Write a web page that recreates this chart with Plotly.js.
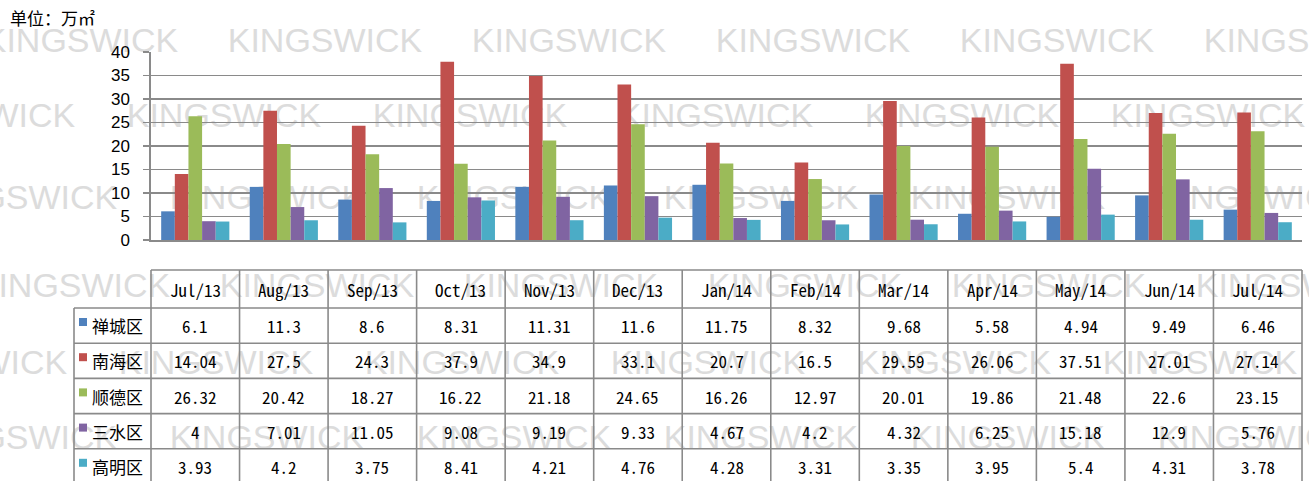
<!DOCTYPE html>
<html><head><meta charset="utf-8">
<script src="https://cdn.plot.ly/plotly-3.0.1.min.js"></script>
<style>html,body{margin:0;padding:0;background:#fff;} #chart{width:1309px;height:481px;}</style>
</head><body><div id="chart"></div>
<script>
// ---- data ----
const months = ['Jul/13','Aug/13','Sep/13','Oct/13','Nov/13','Dec/13','Jan/14','Feb/14','Mar/14','Apr/14','May/14','Jun/14','Jul/14'];
const seriesNames = ['禅城区','南海区','顺德区','三水区','高明区'];
const chancheng = [6.1, 11.3, 8.6, 8.31, 11.31, 11.6, 11.75, 8.32, 9.68, 5.58, 4.94, 9.49, 6.46];
const nanhai    = [14.04, 27.5, 24.3, 37.9, 34.9, 33.1, 20.7, 16.5, 29.59, 26.06, 37.51, 27.01, 27.14];
const shunde    = [26.32, 20.42, 18.27, 16.22, 21.18, 24.65, 16.26, 12.97, 20.01, 19.86, 21.48, 22.6, 23.15];
const sanshui   = [4, 7.01, 11.05, 9.08, 9.19, 9.33, 4.67, 4.2, 4.32, 6.25, 15.18, 12.9, 5.76];
const gaoming   = [3.93, 4.2, 3.75, 8.41, 4.21, 4.76, 4.28, 3.31, 3.35, 3.95, 5.4, 4.31, 3.78];
const unitLabel = '单位：万㎡';
const watermark = 'KINGSWICK';

const seriesValues = [chancheng, nanhai, shunde, sanshui, gaoming];
const colors = ['#4F81BD','#C0504D','#9BBB59','#8064A2','#4BACC6'];

// ---- geometry helpers (pixels -> paper) ----
const W = 1309, H = 481, L = 151, R = 1302, T = 52, B = 240;
const px2x = p => (p - L) / (R - L);
const py2y = p => (B - p) / (B - T);
const n = months.length;
const gridCol = '#8a8a8a';

const traces = seriesNames.map((name, k) => ({
  type: 'bar', name: name, x: months, y: seriesValues[k],
  marker: {color: colors[k]}
}));

const shapes = [];
const annotations = [];

// watermark (behind everything)
const wmRows = [
  {y: 37,  start: -17,  step: 244},
  {y: 112, start: -120, step: 246},
  {y: 194, start: -78,  step: 247},
  {y: 282, start: -25,  step: 244},
  {y: 359, start: -128, step: 246},
  {y: 434, start: -78,  step: 247}
];
wmRows.forEach(r => {
  for (let s = r.start; s < W; s += r.step) {
    shapes.push({type: 'rect', xref: 'paper', yref: 'paper', layer: 'below',
      x0: px2x(s), x1: px2x(s + 196), y0: py2y(r.y + 18), y1: py2y(r.y - 18),
      line: {width: 0}, fillcolor: 'rgba(0,0,0,0)',
      label: {text: watermark, textposition: 'middle center',
        font: {family: 'Liberation Sans, Arial, sans-serif', size: 34, color: '#dcdcdc'}}});
  }
});

// table geometry
const headTop = 270, headBot = 308, rowH = 35.2, labL = 74;
const rowTop = k => headBot + k * rowH;
const tableBot = rowTop(seriesNames.length);
const lineStyle = {color: gridCol, width: 1.6};
const colEdge = i => L + (R - L) * i / n;

// horizontal lines
shapes.push({type: 'line', xref: 'paper', yref: 'paper', x0: px2x(L), x1: px2x(R), y0: py2y(headTop), y1: py2y(headTop), line: lineStyle});
for (let k = 0; k <= seriesNames.length; k++) {
  shapes.push({type: 'line', xref: 'paper', yref: 'paper', x0: px2x(labL), x1: px2x(R), y0: py2y(rowTop(k)), y1: py2y(rowTop(k)), line: lineStyle});
}
// vertical lines
for (let i = 0; i <= n; i++) {
  shapes.push({type: 'line', xref: 'paper', yref: 'paper', x0: px2x(colEdge(i)), x1: px2x(colEdge(i)), y0: py2y(headTop), y1: py2y(tableBot), line: lineStyle});
}
shapes.push({type: 'line', xref: 'paper', yref: 'paper', x0: px2x(labL), x1: px2x(labL), y0: py2y(headBot), y1: py2y(tableBot), line: lineStyle});

const tblFont = {family: 'Noto Sans Mono CJK SC, DejaVu Sans Mono, monospace', size: 17, color: '#000'};
// header
months.forEach((m, i) => {
  annotations.push({xref: 'x', yref: 'paper', x: i, y: py2y((headTop + headBot) / 2), text: m,
    showarrow: false, xanchor: 'center', yanchor: 'middle', font: tblFont});
});
// rows
seriesNames.forEach((name, k) => {
  const yc = rowTop(k) + rowH / 2;
  shapes.push({type: 'rect', xref: 'paper', yref: 'paper', x0: px2x(79), x1: px2x(87), y0: py2y(rowTop(k) + 10), y1: py2y(rowTop(k) + 18),
    line: {width: 0}, fillcolor: colors[k]});
  annotations.push({xref: 'paper', yref: 'paper', x: px2x(90), y: py2y(yc), text: name, showarrow: false,
    xanchor: 'left', yanchor: 'middle', font: {family: 'Noto Sans CJK SC, sans-serif', size: 17, color: '#000'}});
  seriesValues[k].forEach((v, i) => {
    annotations.push({xref: 'x', yref: 'paper', x: i, y: py2y(yc), text: String(v), showarrow: false,
      xanchor: 'center', yanchor: 'middle', font: tblFont});
  });
});

annotations.push({xref: 'paper', yref: 'paper', x: px2x(8), y: py2y(18), text: unitLabel, showarrow: false,
  xanchor: 'left', yanchor: 'middle', font: {family: 'Noto Sans CJK SC, sans-serif', size: 17, color: '#000'}});

const layout = {
  width: W, height: H,
  margin: {l: L, r: W - R, t: T, b: H - B, pad: 0},
  paper_bgcolor: 'rgba(0,0,0,0)', plot_bgcolor: 'rgba(0,0,0,0)',
  showlegend: false,
  barmode: 'group', bargap: 0.23, bargroupgap: 0,
  xaxis: {type: 'category', showticklabels: false, ticks: '', showgrid: false,
    showline: true, linecolor: gridCol, linewidth: 1.6, range: [-0.5, n - 0.5], fixedrange: true},
  yaxis: {range: [0, 40], dtick: 5, tick0: 0, showgrid: true, gridcolor: gridCol, gridwidth: 1.6,
    showline: true, linecolor: gridCol, linewidth: 1.6, ticks: 'outside', ticklen: 6, tickcolor: gridCol, tickwidth: 1.6,
    zeroline: false, ticklabelstandoff: 10,
    tickfont: {family: 'Liberation Sans, Arial, sans-serif', size: 17, color: '#000'}, fixedrange: true},
  shapes: shapes, annotations: annotations,
  font: {family: 'Liberation Sans, Arial, sans-serif'}
};

Plotly.newPlot('chart', traces, layout, {staticPlot: true, displayModeBar: false});
</script>
</body></html>
